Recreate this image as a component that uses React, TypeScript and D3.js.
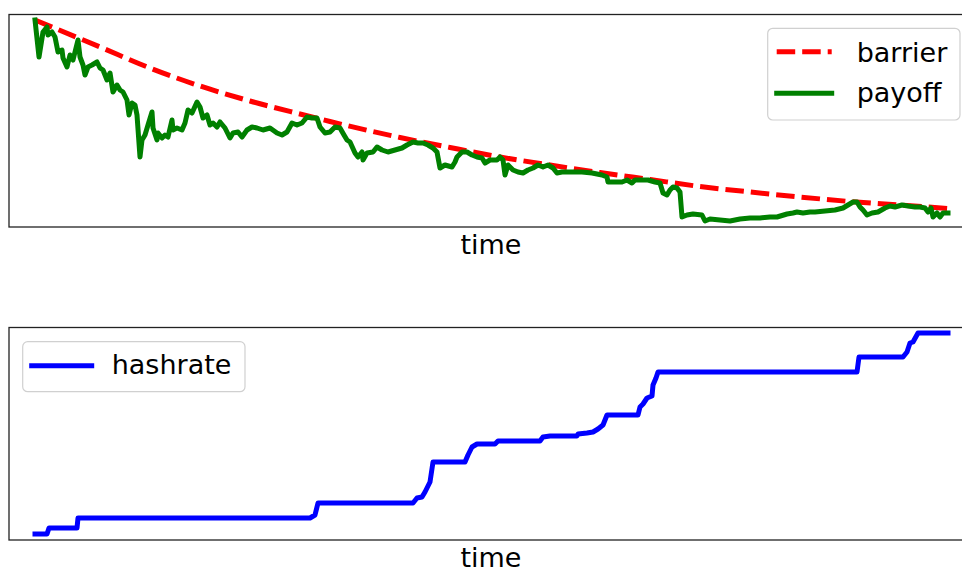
import React from "react";
import * as d3 from "d3";

// time steps (t) and values, arbitrary units
const payoffT = [
  0, 4, 8, 12, 13, 17, 20, 23, 27, 28, 32, 35, 38, 43, 45, 48, 50, 53, 57, 62, 65, 68, 72, 75, 78,
  82, 85, 88, 92, 94, 97, 100, 102, 105, 107, 110, 113, 117, 118, 122, 123, 127, 130, 133, 137, 138,
  142, 147, 150, 153, 157, 162, 165, 168, 172, 175, 178, 182, 185, 190, 195, 198, 203, 207, 212, 217,
  222, 228, 235, 242, 247, 252, 257, 262, 267, 272, 277, 282, 285, 290, 295, 300, 305, 309, 312, 315,
  320, 323, 327, 328, 332, 338, 342, 347, 353, 360, 367, 372, 378, 383, 388, 393, 398, 402, 405, 410,
  417, 420, 422, 427, 432, 437, 442, 447, 450, 455, 462, 465, 468, 470, 473, 478, 483, 488, 493, 498,
  503, 508, 513, 518, 522, 527, 533, 540, 547, 557, 567, 572, 573, 580, 587, 592, 597, 600, 607, 613,
  620, 625, 628, 632, 635, 638, 642, 645, 647, 652, 658, 667, 670, 675, 685, 695, 705, 715, 725, 735,
  742, 752, 758, 762, 768, 775, 780, 790, 800, 808, 813, 818, 822, 825, 828, 832, 837, 843, 850, 855,
  860, 867, 873, 880, 885, 890, 893, 896, 898, 902, 905, 908, 913,
];
const payoff = [
  207, 170, 195, 200, 192, 195, 190, 175, 177, 169, 160, 172, 167, 187, 170, 162, 152, 160, 162, 165,
  159, 157, 147, 154, 135, 142, 137, 135, 127, 112, 124, 122, 112, 70, 87, 92, 102, 115, 99, 87, 94,
  89, 92, 90, 107, 97, 99, 97, 104, 117, 114, 125, 120, 109, 112, 102, 104, 100, 105, 99, 89, 94, 95,
  90, 97, 100, 99, 97, 99, 94, 92, 95, 104, 102, 104, 110, 109, 109, 100, 94, 95, 100, 99, 92, 87, 85,
  74, 70, 75, 67, 74, 75, 80, 77, 75, 77, 79, 82, 85, 84, 84, 82, 79, 75, 59, 62, 60, 65, 70, 75, 75,
  72, 70, 69, 64, 67, 67, 70, 67, 52, 62, 57, 55, 54, 57, 59, 62, 60, 62, 59, 54, 55, 55, 55, 55, 54,
  52, 50, 45, 45, 45, 47, 44, 47, 47, 47, 45, 44, 34, 32, 37, 40, 39, 35, 10, 12, 13, 12, 6, 8, 7, 6,
  8, 9, 9, 10, 10, 13, 14, 15, 14, 15, 15, 16, 17, 19, 22, 25, 25, 20, 17, 12, 14, 15, 19, 21, 20, 22,
  21, 20, 20, 19, 15, 19, 10, 14, 10, 14, 14,
];

const barrierT = [0, 65, 115, 165, 215, 265, 295, 365, 415, 465, 515, 565, 615, 665, 715, 765, 815, 865, 913];
const barrier = [207, 180, 159, 141, 126, 113, 105.5, 89.5, 79.5, 70, 62, 54.5, 47.5, 40.5, 35, 30, 25.5, 22, 18.5];

const hashT = [
  0, 12, 14, 42, 43, 275, 280, 283, 378, 382, 387, 390, 395, 398, 430, 433, 437, 442, 460, 463, 505,
  508, 515, 542, 543, 552, 558, 563, 568, 572, 603, 605, 608, 612, 617, 618, 621, 623, 822, 824, 868,
  872, 875, 878, 883, 913,
];
const hashrate = [
  6, 6, 12, 12, 22, 22, 25, 37, 37, 42, 43, 48, 58, 78, 78, 85, 93, 96, 96, 99, 99, 103, 104, 104, 106,
  107, 108, 111, 115, 125, 125, 133, 136, 142, 144, 155, 162, 168, 168, 183, 183, 188, 197, 198, 207,
  207,
];

const W = 962;
const H = 569;
const FONT = "DejaVu Sans";
const FS = 27;

const axL = 9;
const axR = 973;
const top1 = 14.5;
const bot1 = 227;
const top2 = 327.5;
const bot2 = 540;

const x = d3.scaleLinear().domain([0, 913]).range([35, 948]);
const y1 = d3.scaleLinear().domain([0, 212.5]).range([bot1, top1]);
const y2 = d3.scaleLinear().domain([0, 212.5]).range([bot2, top2]);

const pts = (ts: number[], vs: number[]) => ts.map((t, i) => [t, vs[i]] as [number, number]);

const line1 = d3
  .line<[number, number]>()
  .x((d) => x(d[0]))
  .y((d) => y1(d[1]));
const barrierLine = d3
  .line<[number, number]>()
  .x((d) => x(d[0]))
  .y((d) => y1(d[1]))
  .curve(d3.curveMonotoneX);
const line2 = d3
  .line<[number, number]>()
  .x((d) => x(d[0]))
  .y((d) => y2(d[1]));

const LW = 5;
const DASH = "18.5 7";

export default function App() {
  const midX = (axL + axR) / 2;
  return (
    <svg
      width={W}
      height={H}
      style={{ position: "absolute", left: 0, top: 0, background: "#fff" }}
      fontFamily={FONT}
    >
      <rect x={0} y={0} width={W} height={H} fill="#fff" />

      <defs>
        <clipPath id="c1">
          <rect x={axL} y={top1} width={axR - axL} height={bot1 - top1} />
        </clipPath>
        <clipPath id="c2">
          <rect x={axL} y={top2} width={axR - axL} height={bot2 - top2} />
        </clipPath>
      </defs>

      {/* top panel */}
      <g clipPath="url(#c1)">
        <path
          d={barrierLine(pts(barrierT, barrier)) || ""}
          fill="none"
          stroke="#ff0000"
          strokeWidth={LW}
          strokeDasharray={DASH}
        />
        <path
          d={line1(pts(payoffT, payoff)) || ""}
          fill="none"
          stroke="#008000"
          strokeWidth={LW}
          strokeLinejoin="round"
          strokeLinecap="square"
        />
      </g>
      <rect x={axL} y={top1} width={axR - axL} height={bot1 - top1} fill="none" stroke="#222" strokeWidth={1.3} />
      <text x={midX} y={253.5} textAnchor="middle" fontSize={FS} fill="#000">
        time
      </text>

      {/* top legend */}
      <rect x={767.7} y={28.3} width={192.3} height={91.7} rx={5} fill="#fff" fillOpacity={0.8} stroke="#d0d0d0" strokeWidth={1.2} />
      <line x1={776.7} x2={831.7} y1={51.7} y2={51.7} stroke="#ff0000" strokeWidth={LW} strokeDasharray={DASH} />
      <text x={856.7} y={61.5} fontSize={FS} fill="#000">
        barrier
      </text>
      <line x1={776.7} x2={831.7} y1={93.3} y2={93.3} stroke="#008000" strokeWidth={LW} strokeLinecap="square" />
      <text x={856.7} y={101.5} fontSize={FS} fill="#000">
        payoff
      </text>

      {/* bottom panel */}
      <g clipPath="url(#c2)">
        <path
          d={line2(pts(hashT, hashrate)) || ""}
          fill="none"
          stroke="#0000ff"
          strokeWidth={LW}
          strokeLinejoin="round"
          strokeLinecap="square"
        />
      </g>
      <rect x={axL} y={top2} width={axR - axL} height={bot2 - top2} fill="none" stroke="#222" strokeWidth={1.3} />
      <text x={midX} y={567} textAnchor="middle" fontSize={FS} fill="#000">
        time
      </text>

      {/* bottom legend */}
      <rect x={22.7} y={341.7} width={222.3} height={50} rx={5} fill="#fff" fillOpacity={0.8} stroke="#d0d0d0" strokeWidth={1.2} />
      <line x1={31.7} x2={91.7} y1={365.7} y2={365.7} stroke="#0000ff" strokeWidth={LW} strokeLinecap="square" />
      <text x={111.7} y={374} fontSize={FS} fill="#000">
        hashrate
      </text>
    </svg>
  );
}
